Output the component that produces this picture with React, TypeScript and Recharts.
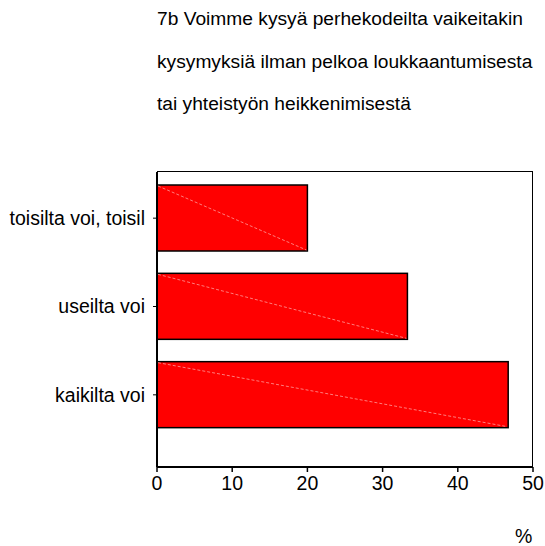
import React from 'react';
import { BarChart, Bar, XAxis, YAxis } from 'recharts';

const categories = ['toisilta voi, toisil', 'useilta voi', 'kaikilta voi'];
const percents = [20.0, 33.3, 46.7];
const xTicks = [0, 10, 20, 30, 40, 50];
const titleLines = [
    '7b Voimme kysyä perhekodeilta vaikeitakin',
    'kysymyksiä ilman pelkoa loukkaantumisesta',
    'tai yhteistyön heikkenimisestä',
];

const FONT = '"Liberation Sans", Arial, sans-serif';
const FS = 19.5;
const TITLE_FS = 19.2;

const data = categories.map((name, i) => ({ name, value: percents[i] }));

const TexturedBar = (props: any) => {
    const { x, y, width, height } = props;
    if (!width || !height) return null;
    return (
        <g>
            <rect x={x} y={y} width={width} height={height} fill="#ff0000" stroke="#000" strokeWidth={1.5} />
            <line x1={x + 1} y1={y + 1} x2={x + width - 1} y2={y + height - 1} stroke="#ff9c9c" strokeWidth={0.8} strokeDasharray="3 2" />
        </g>
    );
};

const App: React.FC = () => {
    return (
        <div style={{ position: 'absolute', left: 0, top: 0, width: 545, height: 546, fontFamily: FONT, background: '#fff', overflow: 'hidden' }}>
            {titleLines.map((line, i) => (
                <div
                    key={i}
                    style={{ position: 'absolute', left: 157, top: 7 + i * 42.5, fontSize: TITLE_FS, lineHeight: '24px', color: '#000', whiteSpace: 'nowrap' }}
                >
                    {line}
                </div>
            ))}
            <div style={{ position: 'absolute', left: 515, top: 530, fontSize: FS, lineHeight: '12px', color: '#000' }}>%</div>
            <BarChart
                width={545}
                height={546}
                data={data}
                layout="vertical"
                margin={{ top: 172, right: 12, bottom: 49, left: 0 }}
                style={{ position: 'absolute', left: 0, top: 0 }}
            >
                <XAxis
                    type="number"
                    dataKey="value"
                    domain={[0, 50]}
                    ticks={xTicks}
                    height={30}
                    tickSize={5}
                    tickMargin={4}
                    axisLine={{ stroke: '#000', strokeWidth: 2 }}
                    tickLine={{ stroke: '#000', strokeWidth: 1.5 }}
                    tick={{ fill: '#000', fontSize: FS, fontFamily: FONT }}
                    interval={0}
                />
                <YAxis
                    type="category"
                    dataKey="name"
                    width={157}
                    padding={{ top: 2, bottom: 28 }}
                    tickSize={4}
                    tickMargin={8}
                    axisLine={{ stroke: '#000', strokeWidth: 2 }}
                    tickLine={{ stroke: '#000', strokeWidth: 1 }}
                    tick={{ fill: '#000', fontSize: FS, fontFamily: FONT }}
                    interval={0}
                />
                <Bar dataKey="value" barSize={66} shape={TexturedBar} isAnimationActive={false} />
            </BarChart>
            {/* plot frame: top and right edges */}
            <div style={{ position: 'absolute', left: 157, top: 171, width: 376, height: 296, borderTop: '1.5px solid #000', borderRight: '1.5px solid #000', boxSizing: 'border-box', pointerEvents: 'none' }} />
        </div>
    );
};

export default App;
